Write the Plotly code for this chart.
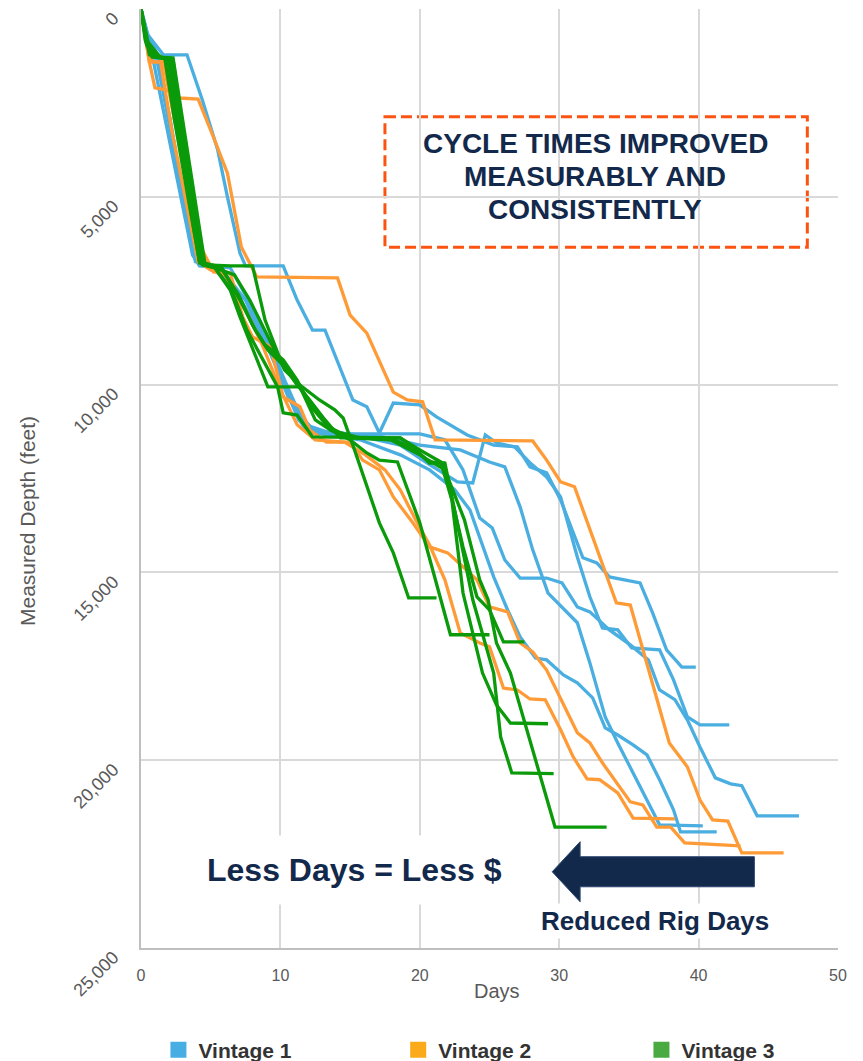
import plotly.graph_objects as go

# ---- data: days vs measured depth (ft) for each well ----
# Vintage 1
V1_W1_DAYS = [0, 0.5, 1.6, 3.3, 4.4, 5.5, 6.2, 7.1, 7.5, 10.2, 11.2, 12.3, 13.2, 15.2, 16.2, 17.1, 18.1, 20.0, 21.2,
              23.4, 25.3, 27.0, 27.9, 29.1, 30.1, 31.7, 32.7, 33.6, 35.8, 36.7, 37.7, 38.8, 39.8]
V1_W1_DEPTH = [0, 690, 1220, 1220, 2420, 3750, 5000, 6500, 6840, 6840, 7750, 8550, 8550, 10410, 10590, 11290, 10490,
               10540, 10860, 11340, 11610, 11660, 12190, 12350, 13070, 14610, 14750, 15120, 15280, 16080, 17060, 17520,
               17520]
V1_W2_DAYS = [0, 0.3, 1.0, 1.7, 2.8, 3.7, 4.2, 6.4, 8.5, 10.3, 11.4, 12.5, 15.0, 20.0, 21.8, 23.1, 24.3, 25.2, 26.1,
              27.2, 29.1, 30.2, 31.3, 32.2, 33.6, 35.1, 36.4, 37.2, 38.3, 39.2, 40.1, 41.2, 42.3, 43.1, 44.2, 47.2]
V1_W2_DEPTH = [0, 560, 1090, 2420, 4550, 6420, 6810, 6890, 8280, 9880, 10810, 11260, 11310, 11310, 11470, 12270, 13550,
               13820, 14670, 15150, 15150, 15280, 15920, 16050, 16530, 16930, 17330, 18130, 18390, 18930, 19650, 20470,
               20630, 20680, 21480, 21480]
V1_W3_DAYS = [0, 0.4, 1.2, 1.9, 3.0, 4.1, 5.3, 7.5, 8.9, 10.5, 11.8, 15.0, 18.6, 20.7, 22.7, 23.8, 24.7, 25.5, 26.8,
              27.9, 29.1, 30.1, 30.8, 31.3, 32.2, 33.1, 34.2, 35.2, 37.2, 38.2, 39.2, 40.1, 42.2]
V1_W3_DEPTH = [0, 620, 1220, 2690, 5080, 6730, 6890, 7750, 8810, 10280, 11210, 11310, 11610, 12130, 12590, 12620,
               11340, 11550, 11660, 12080, 12460, 12990, 13950, 14590, 15650, 16480, 16530, 17010, 17060, 17860, 18850,
               19060, 19060]
V1_W4_DAYS = [0, 0.4, 0.8, 1.6, 2.7, 3.7, 4.2, 5.7, 7.5, 9.1, 10.7, 11.8, 13.6, 17.1, 20.0, 22.9, 25.0, 26.1, 27.2,
              28.1, 29.2, 31.3, 32.2, 33.3, 34.2, 35.3, 36.3, 37.2, 40.3]
V1_W4_DEPTH = [0, 690, 1220, 2690, 4820, 6550, 6840, 6890, 7750, 8810, 10280, 11070, 11290, 11370, 11610, 11740,
               12060, 12190, 13260, 14400, 15550, 16340, 17410, 18850, 19540, 20340, 21060, 21720, 21750]
V1_W5_DAYS = [0, 0.5, 1.1, 2.1, 3.2, 3.9, 5.0, 6.7, 8.5, 10.0, 11.3, 12.1, 15.7, 18.6, 20.7, 22.5, 23.6, 24.3, 25.3,
              26.3, 27.2, 28.3, 29.1, 30.3, 31.3, 32.4, 33.3, 34.2, 35.3, 36.3, 37.2, 38.2, 38.7, 41.3]
V1_W5_DEPTH = [0, 770, 1220, 2950, 5350, 6730, 6840, 7480, 8550, 9740, 10940, 11260, 11470, 11870, 12270, 12800,
               13340, 14060, 15120, 16000, 16720, 17280, 17330, 17730, 17940, 18340, 19140, 19330, 19590, 19860, 20520,
               21320, 21910, 21910]

# Vintage 2
V2_W1_DAYS = [0, 0.6, 1.0, 1.9, 2.8, 4.1, 5.2, 6.2, 7.2, 8.3, 14.1, 15.0, 16.2, 18.1, 19.1, 20.2, 21.1, 28.1, 29.1,
              30.1, 31.1, 34.1, 35.1, 37.9, 39.2, 40.1, 41.0, 42.1, 43.1, 46.1]
V2_W1_DEPTH = [0, 1410, 2100, 2160, 2370, 2400, 3410, 4370, 6340, 7130, 7160, 8150, 8630, 10200, 10410, 10460, 11470,
               11500, 12010, 12590, 12720, 15810, 15870, 19540, 20180, 21060, 21590, 21620, 22470, 22470]
V2_W2_DAYS = [0, 0.6, 1.6, 2.4, 3.5, 4.4, 5.2, 6.4, 7.3, 8.0, 9.3, 10.2, 11.4, 12.1, 13.3, 15.0, 15.9, 17.1, 18.1,
              19.5, 20.7, 22.0, 23.1, 24.1, 25.0, 26.3, 27.2, 28.1, 29.1, 31.3, 32.2, 33.1, 35.1, 36.0, 37.0, 38.0,
              39.0, 43.0]
V2_W2_DEPTH = [0, 1410, 1410, 2950, 4820, 6420, 7000, 7030, 8200, 8730, 9000, 10330, 10590, 11210, 11530, 11530,
               12010, 12270, 12990, 13680, 14320, 14480, 14850, 15200, 15920, 16050, 16880, 17120, 17600, 19270, 19540,
               20070, 21110, 21190, 21780, 21780, 22200, 22280]
V2_W3_DAYS = [0, 0.4, 0.8, 1.4, 2.2, 3.2, 4.1, 5.0, 6.0, 7.5, 8.7, 10.0, 11.2, 12.5, 14.6, 16.1, 17.5, 18.6, 19.7,
              20.7, 21.8, 22.9, 24.3, 25.0, 26.0, 27.0, 27.9, 29.0, 30.1, 31.0, 32.0, 32.9, 34.2, 35.3, 38.3]
V2_W3_DEPTH = [0, 830, 1410, 1410, 3220, 5080, 6730, 6950, 7080, 8010, 8940, 10140, 11070, 11470, 11530, 11870,
               12270, 12800, 13600, 14270, 15200, 16610, 16880, 16980, 18080, 18130, 18370, 18390, 19190, 19910, 20500,
               20520, 20870, 21540, 21560]

# Vintage 3
V3_W1_DAYS = [0, 0.4, 0.6, 1.7, 2.4, 3.4, 4.2, 5.3, 6.7, 7.8, 8.9, 10.3, 11.4, 12.8, 13.9, 14.5, 15.2, 16.2, 17.1,
              18.1, 19.2, 21.2]
V3_W1_DEPTH = [0, 830, 1220, 1300, 2950, 5080, 6730, 6890, 7080, 7750, 8550, 9610, 10010, 10410, 10670, 10890, 11610,
               12670, 13680, 14480, 15680, 15680]
V3_W2_DAYS = [0, 0.4, 1.0, 2.2, 2.9, 3.8, 4.4, 5.3, 6.4, 7.1, 9.1, 11.4, 12.5, 13.6, 15.0, 16.2, 17.1, 18.4, 20.0,
              22.2, 25.0]
V3_W2_DEPTH = [0, 830, 1280, 1360, 3220, 5350, 6810, 6890, 7480, 8200, 10060, 10060, 10940, 11210, 11470, 11820, 12010,
               12060, 13680, 16660, 16660]
V3_W3_DAYS = [0, 0.3, 0.8, 1.9, 2.7, 3.5, 4.2, 5.3, 6.5, 7.6, 9.8, 10.2, 11.2, 12.3, 18.6, 19.5, 20.7, 21.7, 23.1,
              24.1, 25.0, 26.0, 27.5]
V3_W3_DEPTH = [0, 830, 1280, 1300, 3220, 5220, 6760, 6890, 7480, 8550, 10060, 10750, 10810, 11390, 11420, 11660, 12090,
               12090, 14320, 15650, 16000, 16850, 16850]
V3_W4_DAYS = [0, 0.4, 1.5, 2.3, 3.0, 3.9, 4.5, 5.8, 7.1, 8.2, 9.1, 10.2, 11.2, 12.1, 13.2, 14.3, 18.6, 20.0, 21.5,
              22.3, 23.1, 24.5, 25.5, 26.5, 29.2]
V3_W4_DEPTH = [0, 960, 1300, 1360, 3220, 5350, 6790, 6890, 7750, 8550, 9080, 9480, 10010, 10410, 10940, 11420, 11420,
               11740, 12060, 13070, 15550, 17680, 18530, 19010, 19030]
V3_W5_DAYS = [0, 0.4, 1.2, 2.1, 2.8, 3.7, 4.2, 5.7, 7.0, 8.0, 8.9, 10.2, 11.2, 12.1, 13.6, 15.7, 18.2, 19.7, 20.7,
              21.8, 22.5, 23.8, 25.3, 25.8, 26.6, 29.6]
V3_W5_DEPTH = [0, 830, 1280, 1300, 3220, 5350, 6730, 6870, 7610, 8410, 8940, 9340, 9880, 10540, 11210, 11420, 11470,
               11740, 12060, 12090, 13340, 15730, 17680, 19380, 20340, 20360]
V3_W6_DAYS = [0, 0.5, 1.4, 2.3, 3.1, 4.0, 4.6, 6.4, 8.0, 8.9, 10.0, 11.2, 12.3, 13.6, 15.0, 17.9, 20.0, 21.8, 23.2,
              24.3, 24.9, 25.5, 26.5, 29.7, 33.4]
V3_W6_DEPTH = [0, 880, 1300, 1300, 3220, 5350, 6810, 6840, 6840, 8280, 9340, 9960, 10540, 11150, 11420, 11470, 11870,
               12270, 13600, 15200, 15730, 16880, 17680, 21780, 21780]

VINTAGES = ["Vintage 1", "Vintage 2", "Vintage 3"]
Y_TICKS = [0, 5000, 10000, 15000, 20000, 25000]
X_TICKS = [0, 10, 20, 30, 40, 50]

wells = {
    "Vintage 1": [(V1_W1_DAYS, V1_W1_DEPTH), (V1_W2_DAYS, V1_W2_DEPTH), (V1_W3_DAYS, V1_W3_DEPTH),
                  (V1_W4_DAYS, V1_W4_DEPTH), (V1_W5_DAYS, V1_W5_DEPTH)],
    "Vintage 2": [(V2_W1_DAYS, V2_W1_DEPTH), (V2_W2_DAYS, V2_W2_DEPTH), (V2_W3_DAYS, V2_W3_DEPTH)],
    "Vintage 3": [(V3_W1_DAYS, V3_W1_DEPTH), (V3_W2_DAYS, V3_W2_DEPTH), (V3_W3_DAYS, V3_W3_DEPTH),
                  (V3_W4_DAYS, V3_W4_DEPTH), (V3_W5_DAYS, V3_W5_DEPTH), (V3_W6_DAYS, V3_W6_DEPTH)],
}

line_colors = {"Vintage 1": "#4aaee0", "Vintage 2": "#ff9b36", "Vintage 3": "#0a9a0a"}
legend_colors = {"Vintage 1": "#47aee3", "Vintage 2": "#fbab19", "Vintage 3": "#4aaa42"}
legend_names = ["legend", "legend2", "legend3"]
legend_x = [0.025, 0.369, 0.718]
navy = "#13294b"
grey = "#595959"
font = "Liberation Sans, Arial, sans-serif"

fig = go.Figure()

for v in VINTAGES:
    for days, depth in wells[v]:
        fig.add_trace(go.Scatter(x=days, y=depth, mode="lines",
                                 line=dict(color=line_colors[v], width=3.3),
                                 legendgroup=v, showlegend=False, hoverinfo="skip"))

# square legend swatches, one legend box per vintage so they can be spaced like the original
for v, lg in zip(VINTAGES, legend_names):
    fig.add_trace(go.Scatter(x=[None], y=[None], mode="markers", name="<b>" + v + "</b>",
                             marker=dict(symbol="square", size=16, color=legend_colors[v]),
                             legendgroup=v, legend=lg))

# dashed call-out box
fig.add_shape(type="rect", xref="x", yref="y", x0=17.5, x1=47.8, y0=2870, y1=6340,
              line=dict(color="#fb5412", width=3, dash="11px,5px"), fillcolor="white", layer="below")
for txt, yy in [("CYCLE TIMES IMPROVED", 3570), ("MEASURABLY AND", 4460), ("CONSISTENTLY", 5350)]:
    fig.add_annotation(x=32.6, y=yy, xref="x", yref="y", text="<b>" + txt + "</b>", showarrow=False,
                       font=dict(family=font, size=28, color=navy))

# arrow
fig.add_shape(type="path", xref="x", yref="y", layer="above",
              path="M 29.5 22970 L 31.5 22170 L 31.5 22570 L 44.0 22570 L 44.0 23370 L 31.5 23370 L 31.5 23770 Z",
              fillcolor=navy, line=dict(color="#2b4570", width=1))

fig.add_annotation(x=15.3, y=22920, xref="x", yref="y", text="<b>Less Days = Less $</b>", showarrow=False,
                   font=dict(family=font, size=32, color=navy), bgcolor="white", borderpad=16)
fig.add_annotation(x=36.9, y=24280, xref="x", yref="y", text="<b>Reduced Rig Days</b>", showarrow=False,
                   font=dict(family=font, size=26, color=navy), bgcolor="white", borderpad=2)

# axis titles
fig.add_annotation(x=-0.1636, y=0.4547, xref="paper", yref="paper", text="Measured Depth (feet)",
                   textangle=-90, showarrow=False, xanchor="center", yanchor="middle",
                   font=dict(family=font, size=21, color=grey))
fig.add_annotation(x=0.5108, y=-0.0458, xref="paper", yref="paper", text="Days",
                   showarrow=False, xanchor="center", yanchor="middle",
                   font=dict(family=font, size=20, color=grey))

fig.update_xaxes(range=[0, 50], tickvals=X_TICKS, showgrid=True, gridcolor="#d9d9d9", gridwidth=2,
                 zeroline=False, showline=True, linecolor="#bfbfbf", linewidth=2, ticks="",
                 ticklabelstandoff=12, tickfont=dict(family=font, size=16, color=grey))
fig.update_yaxes(range=[25000, 0], tickvals=Y_TICKS, tickformat=",d", tickangle=-45, showgrid=True,
                 gridcolor="#d9d9d9", gridwidth=2, zeroline=False, showline=True, linecolor="#bfbfbf",
                 linewidth=2, ticks="", ticklabelstandoff=22, ticklabelshift=-7, ticklabeloverflow="allow",
                 tickfont=dict(family=font, size=18, color=grey))

legend_style = dict(orientation="h", y=-0.1086, xanchor="left", yanchor="middle",
                    font=dict(family=font, size=21, color="#333333"))
fig.update_layout(
    width=863, height=1061,
    margin=dict(l=133, r=33, t=1, b=121, autoexpand=False),
    plot_bgcolor="white", paper_bgcolor="white",
    font=dict(family=font),
    legend=dict(x=legend_x[0], **legend_style),
    legend2=dict(x=legend_x[1], **legend_style),
    legend3=dict(x=legend_x[2], **legend_style),
)

fig.write_html("out.html")
